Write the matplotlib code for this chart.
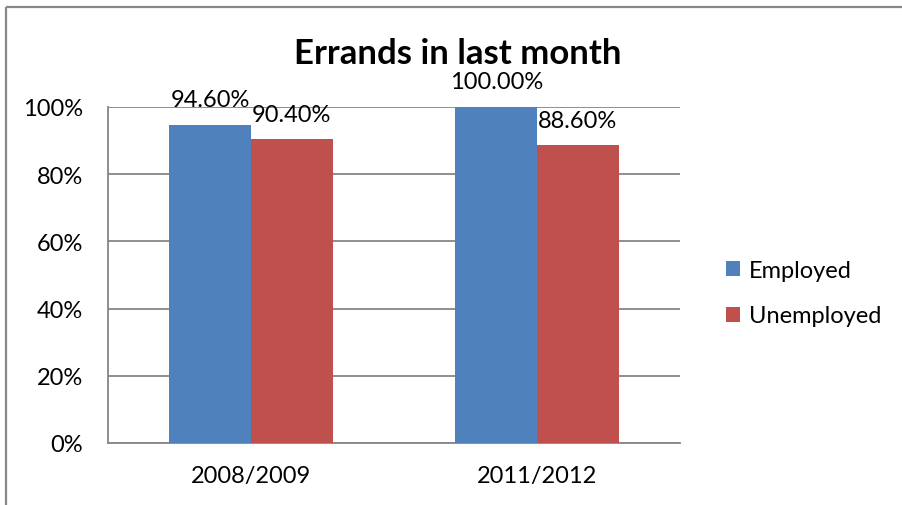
import matplotlib
matplotlib.use("Agg")
import matplotlib.pyplot as plt
from matplotlib.lines import Line2D
from matplotlib.patches import Patch

# Survey data: share of respondents who ran errands in the last month
periods = ["2008/2009", "2011/2012"]
series_names = ["Employed", "Unemployed"]
employed = [94.6, 100.0]
unemployed = [90.4, 88.6]
y_ticks = [0, 20, 40, 60, 80, 100]
y_tick_labels = ["0%", "20%", "40%", "60%", "80%", "100%"]

colors = ["#4F81BD", "#C0504D"]
grid_color = "#868686"

plt.rcParams["font.family"] = ["Lato", "DejaVu Sans"]

W, H = 902, 506
fig = plt.figure(figsize=(W / 100, H / 100), dpi=100)

# chart-area border: only the top and left edges fall inside the image
border_kw = dict(transform=fig.transFigure, color="#888888", linewidth=1.6,
                 solid_capstyle="butt")
fig.add_artist(Line2D([6 / W, 1.05], [1 - 8 / H, 1 - 8 / H], **border_kw))
fig.add_artist(Line2D([6 / W, 6 / W], [-0.05, 1 - 8 / H], **border_kw))

ax = fig.add_axes([108 / W, (H - 444) / H, (680 - 108) / W, (444 - 108) / H])

bar_w = 0.285
x = list(range(len(periods)))
for vals, name, col, side in [(employed, series_names[0], colors[0], -1),
                              (unemployed, series_names[1], colors[1], 1)]:
    xs = [xi + side * bar_w / 2 for xi in x]
    bars = ax.bar(xs, vals, width=bar_w, color=col, label=name, zorder=3)
    for b, v in zip(bars, vals):
        ax.annotate(f"{v:.2f}%", (b.get_x() + b.get_width() / 2, v),
                    xytext=(0, 13.5), textcoords="offset points",
                    ha="center", va="baseline", fontsize=17,
                    color="black", zorder=5, annotation_clip=False)

ax.set_xlim(-0.5, len(periods) - 0.5)
ax.set_ylim(0, 100)
ax.set_yticks(y_ticks)
ax.set_yticklabels(y_tick_labels, fontsize=17)
ax.set_xticks(x)
ax.set_xticklabels(periods, fontsize=17)
ax.tick_params(axis="y", length=0, pad=18)
ax.tick_params(axis="x", length=0, pad=16)

ax.grid(axis="y", color=grid_color, linewidth=1.3, zorder=0)
for s in ["top", "right"]:
    ax.spines[s].set_visible(False)
for s in ["left", "bottom"]:
    ax.spines[s].set_color(grid_color)
    ax.spines[s].set_linewidth(1.3)

fig.text(0.508, 1 - 64 / H, "Errands in last month", ha="center",
         va="baseline", fontsize=25, fontweight="bold")

handles = [Patch(facecolor=c, edgecolor="none") for c in colors]
fig.legend(handles, series_names, loc="center left",
           bbox_to_anchor=(705 / W, 1 - 294 / H), frameon=False,
           fontsize=17, handlelength=0.6, handleheight=0.6,
           handletextpad=0.35, labelspacing=1.05)

fig.savefig("out.png", dpi=100)
